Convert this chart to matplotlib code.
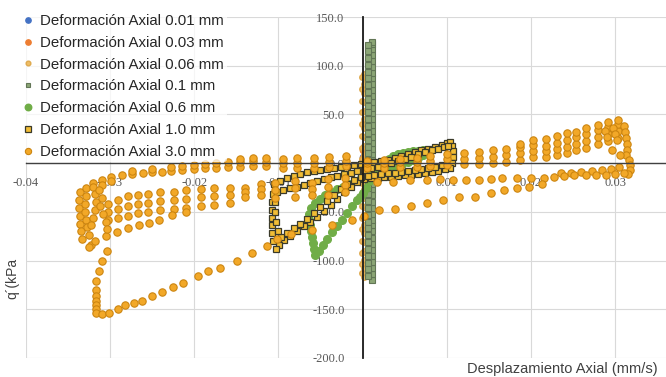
import matplotlib.pyplot as plt

plt.rcParams['font.family'] = ['Liberation Sans', 'DejaVu Sans']

# ---- series data: axial displacement (mm/s) vs q' (kPa) ----

# 0.01 mm and 0.03 mm stay close to the origin
d001_x = [0.0001, 0.0002, 0.0002, 0.0001, 0.0000, -0.0001]
d001_y = [-4, 0, 4, 6, 2, -2]
d003_x = [0.0002, 0.0003, 0.0004, 0.0003, 0.0001, 0.0000, -0.0001]
d003_y = [-15, -8, 0, 8, 14, 5, -6]

# 0.06 mm: narrow vertical loop
d006_x_up, d006_x_dn = 0.0002, -0.0001
d006_y_up = [-117, -108, -99, -90, -81, -72, -63, -54, -45, -36, -27, -18, -9,
             0, 9, 18, 27, 36, 45, 54, 63, 72, 81, 88, 92]
d006_y_dn = [88, 76, 64, 52, 40, 28, 16, 4, -8, -20, -32, -44, -56, -68, -80,
             -92, -104, -113]

# 0.1 mm: narrow vertical loop, slightly to the right
d01_x_up, d01_x_dn = 0.0011, 0.0007
d01_y_up = [-120, -114, -108, -101, -95, -89, -83, -77, -70, -64, -58, -52, -46,
            -40, -33, -27, -21, -15, -9, -3, 3, 9, 15, 21, 27, 33, 39, 45, 51,
            57, 63, 69, 75, 81, 87, 93, 99, 105, 111, 117, 122, 124]
d01_y_dn = [121, 115, 108, 101, 94, 87, 80, 73, 66, 59, 52, 45, 38, 31, 24,
            17, 10, 3, -4, -11, -18, -25, -32, -39, -46, -53, -60, -67, -74,
            -81, -88, -95, -102, -109, -116]

# 0.6 mm
d06_x = [0.0004, 0.0008, 0.0012, 0.0016, 0.0021, 0.0026, 0.0031, 0.0036, 0.0042,
         0.0048, 0.0054, 0.0060, 0.0066, 0.0072, 0.0076,
         0.0072, 0.0066, 0.0060, 0.0054, 0.0047, 0.0040, 0.0033, 0.0026, 0.0019,
         0.0012, 0.0005, -0.0002, -0.0009, -0.0016, -0.0023, -0.0030, -0.0037,
         -0.0044, -0.0050, -0.0056, -0.0061,
         -0.0063, -0.0063, -0.0062, -0.0061, -0.0060, -0.0059, -0.0058, -0.0057,
         -0.0052, -0.0047, -0.0042, -0.0036, -0.0030, -0.0024, -0.0018, -0.0012,
         -0.0007, -0.0003, 0.0001]
d06_y = [-25, -18, -12, -7, -3, 1, 4, 7, 9, 10, 11, 12, 12, 13, 13,
         8, 5, 3, 1, -1, -3, -5, -7, -9, -11, -13, -15, -18, -21, -24, -27,
         -30, -33, -37, -41, -46,
         -52, -58, -64, -70, -76, -82, -88, -94,
         -90, -84, -78, -71, -65, -58, -51, -44, -38, -35, -31]

# 1.0 mm, first cycle: upper branch, right edge, lower branch, left edge
d10_x = [-0.0105, -0.0098, -0.0090, -0.0082, -0.0074, -0.0066, -0.0058, -0.0050,
         -0.0042, -0.0034, -0.0026, -0.0018, -0.0010, -0.0002, 0.0006, 0.0014,
         0.0022, 0.0030, 0.0038, 0.0046, 0.0054, 0.0062, 0.0070, 0.0078,
         0.0086, 0.0094, 0.0100, 0.0104,
         0.0106, 0.0107, 0.0107, 0.0106, 0.0104,
         0.0098, 0.0090, 0.0082, 0.0074, 0.0066, 0.0058, 0.0050, 0.0042,
         0.0034, 0.0026, 0.0018, 0.0010, 0.0002, -0.0006, -0.0014, -0.0022,
         -0.0030, -0.0038, -0.0046, -0.0054, -0.0062, -0.0070, -0.0078,
         -0.0086, -0.0093, -0.0099, -0.0103,
         -0.0106, -0.0107, -0.0108, -0.0108, -0.0107, -0.0107, -0.0106]
d10_y = [-21, -18, -15, -13, -11, -9, -8, -7, -6, -5, -4, -3, -2, -1, 0, 1,
         2, 3, 5, 7, 9, 11, 13, 15, 17, 19, 21, 22,
         18, 12, 6, 0, -5,
         -6, -8, -9, -10, -11, -12, -12, -13, -14, -14, -15, -15, -16, -19,
         -24, -30, -37, -43, -49, -55, -60, -65, -70, -75, -79, -84, -88,
         -80, -72, -64, -56, -48, -40, -32]

# 1.0 mm, second cycle running just inside the first
d10b_x = [-0.0102, -0.0094, -0.0086, -0.0078, -0.0070, -0.0062, -0.0054, -0.0046,
          -0.0038, -0.0030, -0.0022, -0.0014, -0.0006, 0.0002, 0.0010, 0.0018,
          0.0026, 0.0034, 0.0042, 0.0050, 0.0058, 0.0066, 0.0074, 0.0082,
          0.0090, 0.0097, 0.0102,
          0.0094, 0.0086, 0.0078, 0.0070, 0.0062, 0.0054, 0.0046, 0.0038,
          0.0030, 0.0022, 0.0014, 0.0006, -0.0002, -0.0010, -0.0018, -0.0026,
          -0.0034, -0.0042, -0.0050, -0.0058, -0.0066, -0.0074, -0.0082,
          -0.0090, -0.0097, -0.0101, -0.0103, -0.0104, -0.0104]
d10b_y = [-30, -28, -26, -24, -22, -20, -18, -16, -14, -13, -11, -10, -8, -7,
          -5, -4, -2, 0, 2, 4, 6, 9, 11, 13, 15, 17, 18,
          -2, -4, -5, -6, -7, -8, -9, -10, -10, -11, -12, -13, -14, -17,
          -21, -27, -33, -39, -45, -51, -57, -62, -67, -72, -76, -70, -60,
          -50, -40]

# 3.0 mm: upper branch, stacked readings per displacement step
up3_x = [-0.0320, -0.0310, -0.0299, -0.0286, -0.0274, -0.0261, -0.0250, -0.0238,
         -0.0227, -0.0214, -0.0200, -0.0187, -0.0174, -0.0160, -0.0145, -0.0130,
         -0.0115, -0.0095, -0.0078, -0.0058, -0.0040, -0.0020, 0.0005, 0.0025,
         0.0045, 0.0065, 0.0080, 0.0100, 0.0120, 0.0138, 0.0155, 0.0170, 0.0187,
         0.0203, 0.0218, 0.0231, 0.0243, 0.0254, 0.0266, 0.0280, 0.0292, 0.0304]
up3_y = [[-20], [-17, -22], [-14, -18], [-12], [-11, -8], [-10], [-9, -6], [-9],
         [-8, -4], [-7, -3], [-6, -2], [-5, -1], [-5, 0], [-4, 1], [-4, 1, 4],
         [-3, 2, 5], [-3, 1, 5], [-5, 0, 4], [-5, 0, 5], [-5, 0, 5], [-4, 1, 6],
         [-3, 2, 7], [-5, 0, 2], [-5, 0, 3], [-4, 1, 4], [-4, 1, 5], [-3, 2, 7],
         [-2, 4, 9], [-1, 4, 10], [-1, 5, 11], [0, 6, 13], [1, 8, 15],
         [3, 10, 17, 20], [6, 12, 19, 24], [6, 12, 18, 25], [8, 15, 21, 28],
         [10, 17, 24, 31], [13, 20, 27, 32], [16, 23, 30, 36], [20, 27, 34, 39],
         [23, 30, 37, 42], [26, 33, 40, 44]]

# 3.0 mm: turn-around at the right end
end3_x = [0.0310, 0.0312, 0.0313, 0.0314, 0.0314, 0.0313, 0.0316, 0.0318, 0.0318,
          0.0315, 0.0298, 0.0300, 0.0302, 0.0288, 0.0290, 0.0305, 0.0295, 0.0285,
          0.0272, 0.0260, 0.0248, 0.0236, 0.0296, 0.0306]
end3_y = [38, 32, 26, 20, 14, 8, 3, -2, -7, -11, 36, 30, 24, 33, 27, -4, -6, -7,
          -8, -9, -10, -10, 14, 8]

# 3.0 mm: lower branch returning left
low3_x = [0.0311, 0.0300, 0.0289, 0.0277, 0.0265, 0.0251, 0.0239, 0.0228, 0.0216,
          0.0200, 0.0183, 0.0166, 0.0153, 0.0138, 0.0123, 0.0108, 0.0092, 0.0076,
          0.0056, 0.0036, 0.0017]
low3_y = [-10, -11, -12, -12, -12, -12, -13, -14, -15, -15, -15, -15, -16, -17,
          -17, -17, -16, -17, -17, -19, -19]

mid3_x = [-0.0021, -0.0041, -0.0060, -0.0080, -0.0104, -0.0121, -0.0140, -0.0157,
          -0.0177, -0.0192, -0.0210, -0.0224, -0.0240, -0.0255, -0.0267, -0.0279,
          -0.0290, -0.0302]
mid3_y = [[-15, -22, -30], [-16, -24, -33], [-20, -27, -33], [-18, -26, -35],
          [-20, -28, -36], [-21, -27, -33], [-25, -30, -35], [-26, -33, -41],
          [-26, -34, -43], [-27, -35, -44], [-28, -37, -46], [-30, -38, -47],
          [-30, -39, -48], [-32, -41, -50], [-33, -42, -51], [-34, -44, -54],
          [-38, -47, -56], [-42, -50, -58]]

diag3_x = [-0.0305, -0.0292, -0.0278, -0.0266, -0.0254, -0.0242, -0.0226, -0.0210]
diag3_y = [-75, -71, -67, -64, -61, -58, -53, -50]

# 3.0 mm: cluster at the left end
blob3_x = [-0.0336, -0.0337, -0.0337, -0.0336, -0.0335, -0.0334, -0.0333,
           -0.0328, -0.0329, -0.0330, -0.0330, -0.0329, -0.0327, -0.0325, -0.0322,
           -0.0320, -0.0318, -0.0316, -0.0318, -0.0320, -0.0322,
           -0.0313, -0.0310, -0.0312, -0.0308, -0.0305, -0.0303, -0.0325, -0.0318]
blob3_y = [-30, -38, -46, -54, -62, -70, -78,
           -26, -34, -42, -50, -58, -66, -74, -84,
           -24, -32, -40, -48, -56, -64,
           -28, -36, -44, -52, -60, -68, -86, -80]

# 3.0 mm: outer excursion down to -155 kPa and back
outer3_x = [-0.0303, -0.0309, -0.0313, -0.0316, -0.0317, -0.0317, -0.0317, -0.0317,
            -0.0317, -0.0316, -0.0310, -0.0301, -0.0291, -0.0282, -0.0272, -0.0262,
            -0.0250, -0.0238, -0.0225, -0.0213, -0.0196, -0.0183, -0.0169, -0.0149,
            -0.0131, -0.0114, -0.0102, -0.0085, -0.0060, -0.0036, -0.0012, 0.0002,
            0.0020, 0.0038, 0.0058, 0.0077, 0.0095, 0.0115, 0.0133, 0.0153, 0.0168,
            0.0183, 0.0198, 0.0213]
outer3_y = [-90, -100, -111, -121, -130, -136, -141, -146, -150, -154, -155, -154,
            -150, -146, -144, -141, -136, -132, -127, -123, -116, -111, -108, -100,
            -92, -85, -78, -73, -69, -64, -58, -54, -48, -47, -44, -41, -38, -35,
            -35, -31, -28, -26, -24, -21]

labels = ["Deformación Axial 0.01 mm", "Deformación Axial 0.03 mm",
          "Deformación Axial 0.06 mm", "Deformación Axial 0.1 mm",
          "Deformación Axial 0.6 mm", "Deformación Axial 1.0 mm",
          "Deformación Axial 3.0 mm"]

# flatten the stacked columns
d006_x = [d006_x_up] * len(d006_y_up) + [d006_x_dn] * len(d006_y_dn)
d006_y = d006_y_up + d006_y_dn
d01_x = [d01_x_up] * len(d01_y_up) + [d01_x_dn] * len(d01_y_dn)
d01_y = d01_y_up + d01_y_dn
d10_all_x = d10_x + d10b_x
d10_all_y = d10_y + d10b_y

d30_x, d30_y = [], []
for xs, ys in ((up3_x, up3_y), (mid3_x, mid3_y)):
    for xv, col in zip(xs, ys):
        d30_x += [xv] * len(col)
        d30_y += col
for xs, ys in ((end3_x, end3_y), (low3_x, low3_y), (diag3_x, diag3_y),
               (blob3_x, blob3_y), (outer3_x, outer3_y)):
    d30_x += xs
    d30_y += ys

fig = plt.figure(figsize=(6.66, 3.77), dpi=100)
ax = fig.add_axes([0.0387, 0.0504, 1.0113, 0.9045])
ax.set_xlim(-0.04, 0.04)
ax.set_ylim(-200, 150)

ax.plot(d001_x, d001_y, ls='none', marker='o', ms=4.5, mfc='#4472C4', mec='#4472C4', label=labels[0])
ax.plot(d003_x, d003_y, ls='none', marker='o', ms=4.5, mfc='#ED7D31', mec='#ED7D31', label=labels[1])
ax.plot(d006_x, d006_y, ls='none', marker='o', ms=4, mfc='#EDB655', mec='#DDA545', alpha=0.9, label=labels[2])
ax.plot(d01_x, d01_y, ls='none', marker='s', ms=4, mfc='#8CA676', mec='#627656', mew=0.8, label=labels[3])
ax.plot(d06_x, d06_y, ls='none', marker='o', ms=5.5, mfc='#70AD47', mec='#70AD47', label=labels[4])
ax.plot(d10_all_x, d10_all_y, ls='none', marker='s', ms=4.5, mfc='#F2BD35', mec='#3A3A2A', mew=0.9, label=labels[5])
ax.plot(d30_x, d30_y, ls='none', marker='o', ms=5.3, mfc='#F2A828', mec='#CC8510', mew=0.8, label=labels[6])

# axes cross at the origin
for side in ('top', 'right'):
    ax.spines[side].set_visible(False)
ax.spines['left'].set_position(('data', 0))
ax.spines['bottom'].set_position(('data', 0))
ax.spines['left'].set_color('#1a1a1a')
ax.spines['bottom'].set_color('#404040')
ax.spines['left'].set_linewidth(1.3)
ax.spines['bottom'].set_linewidth(1.0)

xt = [-0.04, -0.03, -0.02, -0.01, 0.0, 0.01, 0.02, 0.03]
yt = [-200, -150, -100, -50, 0, 50, 100, 150]
ax.set_xticks(xt)
ax.set_xticklabels(['%.2f' % v if v != 0 else '0' for v in xt])
ax.set_yticks(yt)
ax.set_yticklabels(['%.1f' % v for v in yt])
ax.tick_params(length=0, colors='#595959', labelsize=9)
ax.tick_params(axis='x', pad=10)
ax.tick_params(axis='y', pad=13)
for lab in ax.get_xticklabels() + ax.get_yticklabels():
    lab.set_fontfamily('Liberation Serif')
ax.grid(True, color='#D9D9D9', lw=0.8)
ax.set_axisbelow(True)

leg = ax.legend(loc='upper left', bbox_to_anchor=(21 / 666, 1 - 11 / 377),
                bbox_transform=fig.transFigure, fontsize=10.8, numpoints=1,
                labelspacing=0.52, handlelength=0.6, handletextpad=0.5,
                borderpad=0.2, borderaxespad=0, frameon=True, framealpha=0.75,
                edgecolor='none', facecolor='white', markerscale=0.85)
for t in leg.get_texts():
    t.set_color('#262626')

fig.text(12 / 666, 1 - 278 / 377, "q´(kPa", rotation=90, ha='center', va='center',
         fontsize=10, color='#404040')
fig.text(467 / 666, 1 - 376 / 377, "Desplazamiento Axial (mm/s)", ha='left', va='bottom',
         fontsize=10.5, color='#404040')

fig.savefig('out.png', dpi=100)
